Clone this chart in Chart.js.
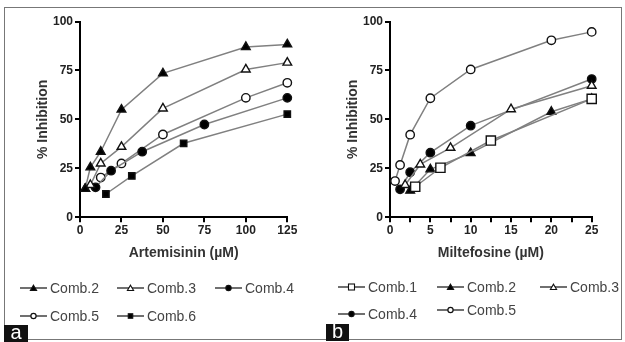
<!DOCTYPE html>
<html>
<head>
<meta charset="utf-8">
<script src="https://cdn.jsdelivr.net/npm/chart.js@4.4.1/dist/chart.umd.min.js"></script>
<style>
  body { margin: 0; background: #fff; font-family: "Liberation Sans", Arial, sans-serif; }
  #wrap { position: relative; width: 625px; height: 342px; overflow: hidden; }
  #wrap canvas { position: absolute; top: 0; }
  .frame { position: absolute; left: 4px; top: 7px; width: 618px; height: 333px; border: 1px solid #777; box-sizing: border-box; }
  .tag { position: absolute; background: #111; color: #fff; font-size: 20px; line-height: 14px; text-align: center; }
  .leg { position: absolute; display: flex; align-items: center; font-size: 14px; color: #444; height: 16px; }
  .leg svg { margin-right: 3px; }
</style>
</head>
<body>
<div id="wrap">
  <div class="frame"></div>
  <canvas id="chartA" width="312" height="342" style="left:0"></canvas>
  <canvas id="chartB" width="313" height="342" style="left:312px"></canvas>
  <div id="legends"></div>
  <div class="tag" style="left:4px;top:325px;width:24px;height:17px;">a</div>
  <div class="tag" style="left:326px;top:324px;width:23px;height:17px;">b</div>
</div>
<script>
// panel a: Artemisinin (uM) vs % inhibition
const artTicks = [0, 25, 50, 75, 100, 125];
const artX2 = [3.125, 6.25, 12.5, 25, 50, 100, 125];
const artY2 = [14.5, 25.5, 33.5, 55, 73.5, 87, 88.3];
const artX3 = [3.125, 6.25, 12.5, 25, 50, 100, 125];
const artY3 = [14.5, 16.5, 27.5, 36, 55.6, 75.5, 79];
const artX4 = [9.375, 18.75, 37.5, 75, 125];
const artY4 = [15.3, 23.8, 33.5, 47.4, 61];
const artX5 = [12.5, 25, 50, 100, 125];
const artY5 = [20.3, 27.5, 42.3, 61, 68.7];
const artX6 = [15.625, 31.25, 62.5, 125];
const artY6 = [11.9, 21.1, 37.8, 52.7];

// panel b: Miltefosine (uM) vs % inhibition
const milX1 = [3.125, 6.25, 12.5, 25];
const milY1 = [15.6, 25.3, 39.2, 60.5];
const milX2 = [2.5, 5, 10, 20, 25];
const milY2 = [13.6, 24.5, 32.8, 53.9, 60.5];
const milX3 = [1.875, 3.75, 7.5, 15, 25];
const milY3 = [16.5, 27, 35.5, 55.2, 67.2];
const milX4 = [1.25, 2.5, 5, 10, 25];
const milY4 = [14.3, 23, 33, 46.8, 70.6];
const milX5 = [0.625, 1.25, 2.5, 5, 10, 20, 25];
const milY5 = [18.5, 26.7, 42.2, 60.8, 75.5, 90.4, 94.7];

const yTicks = [0, 25, 50, 75, 100];

const markers = {
  'Comb.1': { style: 'rect', fill: '#fff', r: 6.5 },
  'Comb.2': { style: 'triangle', fill: '#000', r: 5 },
  'Comb.3': { style: 'triangle', fill: '#fff', r: 5 },
  'Comb.4': { style: 'circle', fill: '#000', r: 4.2 },
  'Comb.5': { style: 'circle', fill: '#fff', r: 4.2 },
  'Comb.6': { style: 'rect', fill: '#000', r: 4.5 }
};

function series(label, xs, ys) {
  const m = markers[label];
  return {
    label: label,
    data: xs.map((x, i) => ({ x: x, y: ys[i] })),
    borderColor: '#808080',
    borderWidth: 1.5,
    pointStyle: m.style,
    pointRadius: m.r,
    pointBackgroundColor: m.fill,
    pointBorderColor: '#111',
    pointBorderWidth: 1.4,
    tension: 0,
    clip: false
  };
}

function makeChart(id, datasets, opts) {
  const tickFont = { family: 'Liberation Sans', size: 12, weight: 'bold' };
  return new Chart(document.getElementById(id), {
    type: 'line',
    data: { datasets: datasets },
    options: {
      responsive: false,
      animation: false,
      layout: { padding: { left: 0, top: 21.5, right: opts.padRight, bottom: 79.7 } },
      plugins: { legend: { display: false }, tooltip: { enabled: false } },
      scales: {
        x: {
          type: 'linear',
          min: 0,
          max: opts.xMax,
          afterFit: (s) => { s.height = 45; },
          afterBuildTicks: (s) => { s.ticks = opts.xTickValues.map(v => ({ value: v })); },
          border: { display: true, color: '#000', width: 2 },
          grid: { display: true, drawOnChartArea: false, drawTicks: true, tickLength: 5, color: '#000', lineWidth: 2 },
          ticks: {
            color: '#222', font: tickFont, padding: 1, maxRotation: 0,
            callback: (v) => opts.xLabelValues.includes(v) ? String(v) : ''
          },
          title: {
            display: true, text: opts.xTitle, color: '#333',
            font: { family: 'Liberation Sans', size: 14, weight: 'bold' },
            padding: { top: 0, bottom: 1 }
          }
        },
        y: {
          type: 'linear',
          min: 0,
          max: 100,
          afterFit: (s) => { s.width = opts.yWidth; },
          afterBuildTicks: (s) => { s.ticks = yTicks.map(v => ({ value: v })); },
          border: { display: true, color: '#000', width: 2 },
          grid: { display: true, drawOnChartArea: false, drawTicks: true, tickLength: 5, color: '#000', lineWidth: 2 },
          ticks: { color: '#222', font: tickFont, padding: 2 },
          title: {
            display: true, text: '% Inhibition', color: '#333',
            font: { family: 'Liberation Sans', size: 14, weight: 'bold' },
            padding: { top: opts.yTitlePad, bottom: 0 }
          }
        }
      }
    }
  });
}

makeChart('chartA', [
  series('Comb.2', artX2, artY2),
  series('Comb.3', artX3, artY3),
  series('Comb.4', artX4, artY4),
  series('Comb.5', artX5, artY5),
  series('Comb.6', artX6, artY6)
], {
  xMax: 125, xTickValues: artTicks, xLabelValues: artTicks,
  xTitle: 'Artemisinin (\u00b5M)', padRight: 24.7, yWidth: 80, yTitlePad: 34.6
});

const milTicks = [0, 2.5, 5, 7.5, 10, 12.5, 15, 17.5, 20, 22.5, 25];
const milLabels = [0, 5, 10, 15, 20, 25];
makeChart('chartB', [
  series('Comb.1', milX1, milY1),
  series('Comb.2', milX2, milY2),
  series('Comb.3', milX3, milY3),
  series('Comb.4', milX4, milY4),
  series('Comb.5', milX5, milY5)
], {
  xMax: 25, xTickValues: milTicks, xLabelValues: milLabels,
  xTitle: 'Miltefosine (\u00b5M)', padRight: 33.3, yWidth: 78, yTitlePad: 32.6
});

// legends below each panel
function iconSvg(label) {
  const m = markers[label];
  let mark = '';
  if (m.style === 'circle') mark = `<circle cx="13.5" cy="8" r="2.6" fill="${m.fill}" stroke="#111" stroke-width="1.2"/>`;
  if (m.style === 'triangle') mark = `<polygon points="13.5,5.2 16.6,10.5 10.4,10.5" fill="${m.fill}" stroke="#111" stroke-width="1.1"/>`;
  if (m.style === 'rect') {
    const s = label === 'Comb.1' ? 6 : 4.5;
    mark = `<rect x="${13.5 - s / 2}" y="${8 - s / 2}" width="${s}" height="${s}" fill="${m.fill}" stroke="#111" stroke-width="1.1"/>`;
  }
  return `<svg width="27" height="16"><line x1="0" y1="8" x2="27" y2="8" stroke="#333" stroke-width="1.4"/>${mark}</svg>`;
}

const legendItems = [
  ['Comb.2', 20, 288], ['Comb.3', 117, 288], ['Comb.4', 215, 288],
  ['Comb.5', 20, 316], ['Comb.6', 117, 316],
  ['Comb.1', 338, 287], ['Comb.2', 437, 287], ['Comb.3', 540, 287],
  ['Comb.4', 338, 314], ['Comb.5', 437, 310]
];
const legends = document.getElementById('legends');
legendItems.forEach(([label, x, y]) => {
  const el = document.createElement('div');
  el.className = 'leg';
  el.style.left = x + 'px';
  el.style.top = (y - 8) + 'px';
  el.innerHTML = iconSvg(label) + '<span>' + label + '</span>';
  legends.appendChild(el);
});
</script>
</body>
</html>
